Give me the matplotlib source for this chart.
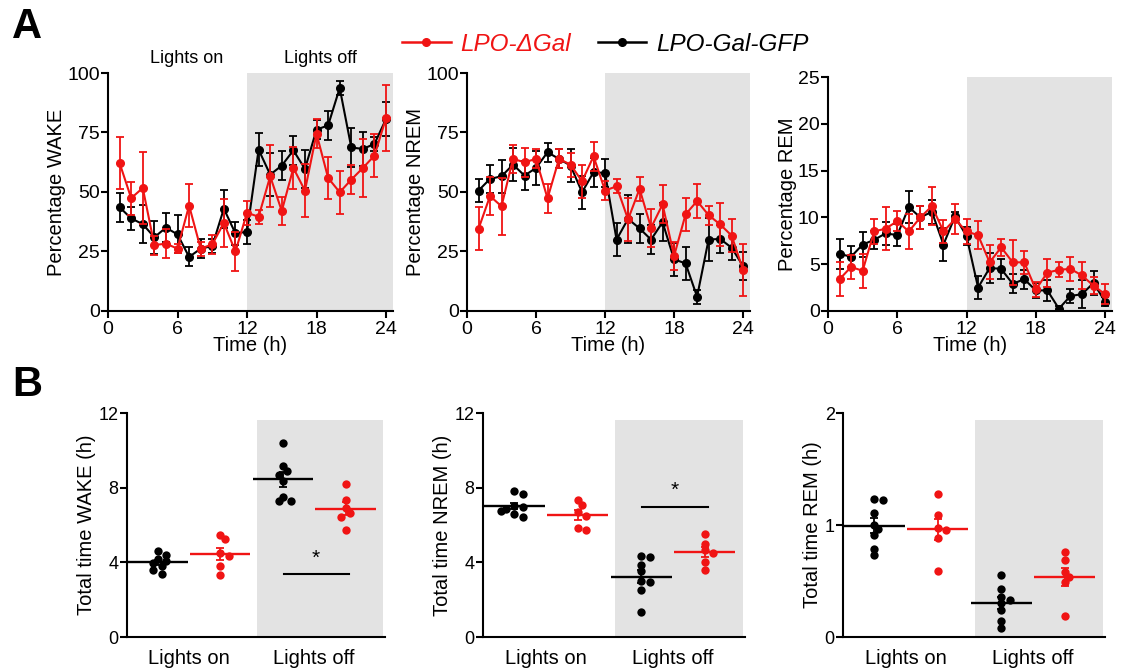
import numpy as np
import matplotlib
matplotlib.use('Agg')
import matplotlib.pyplot as plt

plt.rcParams['font.family'] = ['Liberation Sans', 'DejaVu Sans']
plt.rcParams['font.size'] = 14.5

RED = '#f01414'
BLACK = '#000000'
SHADE = '#e3e3e3'

hours = np.arange(1, 25)

# hourly percentages (mean, sem)
wake_gfp = [43.6, 38.9, 36.5, 31.0, 35.0, 32.2, 22.7, 26.2, 27.3, 43.0, 32.6, 33.3,
            67.8, 57.3, 61.1, 67.5, 59.7, 76.2, 78.0, 93.7, 68.7, 68.1, 70.2, 80.7]
wake_gfp_err = [6, 5, 8, 7, 6, 8, 4, 4, 3, 8, 5, 5, 7, 9, 6, 6, 8, 4, 6, 3, 8, 7, 3, 7]
wake_dgal = [62.2, 47.4, 51.7, 27.7, 28.3, 26.2, 44.3, 26.2, 28.0, 37.0, 25.0, 41.3,
             39.6, 56.6, 42.0, 60.1, 50.6, 74.5, 55.9, 49.9, 55.2, 60.1, 65.3, 81.1]
wake_dgal_err = [11, 7, 15, 4, 6, 2, 9, 3, 4, 10, 8, 5, 3, 13, 6, 9, 11, 6, 9, 9, 6, 12, 9, 14]

nrem_gfp = [50.6, 55.5, 56.6, 61.5, 56.9, 60.1, 66.7, 63.9, 61.1, 49.9, 58.3, 58.0,
            30.0, 38.7, 34.7, 30.0, 37.3, 21.7, 20.0, 6.0, 30.0, 30.3, 26.6, 18.9]
nrem_gfp_err = [5, 6, 7, 7, 6, 7, 4, 4, 7, 7, 6, 6, 7, 10, 6, 6, 8, 7, 7, 3, 9, 6, 5, 6]
nrem_dgal = [34.5, 48.3, 44.0, 63.9, 62.5, 63.9, 47.3, 63.9, 61.5, 54.5, 65.0, 50.6,
             52.4, 38.5, 51.3, 35.0, 44.8, 23.1, 40.6, 46.2, 40.3, 36.4, 31.7, 17.2]
nrem_dgal_err = [9, 8, 12, 6, 6, 4, 6, 4, 5, 7, 6, 4, 3, 9, 5, 8, 8, 6, 7, 7, 4, 9, 7, 11]

rem_gfp = [6.1, 5.8, 7.1, 7.6, 8.3, 8.1, 11.1, 10.0, 10.6, 7.1, 10.1, 8.0,
           2.5, 4.6, 4.5, 2.9, 3.4, 2.2, 2.2, 0.25, 1.6, 1.8, 3.0, 1.0]
rem_gfp_err = [1.6, 1.1, 1.3, 1.0, 1.2, 1.2, 1.7, 1.2, 1.3, 1.8, 0.5, 1.0,
               1.2, 1.6, 1.1, 1.0, 1.0, 0.8, 1.1, 0.3, 0.7, 1.5, 1.3, 0.5]
rem_dgal = [3.4, 4.7, 4.3, 8.5, 8.8, 9.6, 8.5, 10.0, 11.2, 8.5, 9.8, 8.5,
            8.1, 5.2, 6.8, 5.2, 5.2, 2.3, 4.1, 4.4, 4.5, 3.8, 2.7, 1.8]
rem_dgal_err = [1.8, 1.3, 1.8, 1.3, 2.3, 1.1, 1.9, 1.2, 2.0, 1.2, 1.6, 1.3,
                1.5, 1.8, 0.9, 2.4, 1.2, 0.8, 1.5, 0.8, 1.3, 1.4, 0.9, 1.1]

# total time per animal (h)
wake_on_gfp = [4.6, 4.4, 4.2, 4.05, 3.95, 3.8, 3.6, 3.4]
wake_on_dgal = [5.48, 5.25, 4.5, 4.35, 3.79, 3.34]
wake_off_gfp = [10.4, 9.14, 8.87, 8.7, 8.34, 7.5, 7.3, 7.27]
wake_off_dgal = [8.18, 7.36, 6.9, 6.64, 6.43, 5.75]

nrem_on_gfp = [7.8, 7.65, 7.0, 6.95, 6.85, 6.75, 6.6, 6.45]
nrem_on_dgal = [7.36, 7.09, 6.7, 6.5, 5.84, 5.75]
nrem_off_gfp = [4.32, 4.27, 3.88, 3.52, 3.0, 2.95, 2.54, 1.34]
nrem_off_dgal = [5.52, 5.0, 4.65, 4.5, 4.02, 3.57]

rem_on_gfp = [1.235, 1.22, 1.11, 1.0, 0.96, 0.91, 0.79, 0.73]
rem_on_dgal = [1.28, 1.09, 0.97, 0.958, 0.884, 0.586]
rem_off_gfp = [0.55, 0.43, 0.36, 0.33, 0.30, 0.24, 0.14, 0.08]
rem_off_dgal = [0.756, 0.685, 0.58, 0.54, 0.488, 0.19]

W, H = 1121, 669
fig = plt.figure(figsize=(W / 100, H / 100), dpi=100)


def px_axes(left, top, right, bottom):
    return fig.add_axes([left / W, 1 - bottom / H, (right - left) / W, (bottom - top) / H])


def style(ax, tick_size):
    for s in ['top', 'right']:
        ax.spines[s].set_visible(False)
    for s in ['left', 'bottom']:
        ax.spines[s].set_linewidth(1.5)
    ax.tick_params(width=1.5, length=5, labelsize=tick_size)
    ax.tick_params(axis='y', pad=1)
    ax.tick_params(axis='x', pad=2)


def hourly(ax, gfp, gfp_err, dgal, dgal_err, ymax, step, label):
    ax.axvspan(12, 24.6, color=SHADE, lw=0, zorder=0)
    ax.errorbar(hours, gfp, yerr=gfp_err, color=BLACK, marker='o', ms=5.5, lw=1.5,
                elinewidth=1.3, capsize=3, capthick=1.3, zorder=3)
    ax.errorbar(hours, dgal, yerr=dgal_err, color=RED, marker='o', ms=5.5, lw=1.5,
                elinewidth=1.3, capsize=3, capthick=1.3, zorder=4)
    ax.set_xlim(0, 24.6)
    ax.set_ylim(0, ymax)
    ax.set_xticks([0, 6, 12, 18, 24])
    ax.set_yticks(np.arange(0, ymax + 1, step))
    ax.set_xlabel('Time (h)', labelpad=-1)
    ax.set_ylabel(label, labelpad=1)
    style(ax, 14)


def swarm(vals, ax_h_px, ymax, unit_px, d=6.0):
    placed = []
    offs = []
    for v in vals:
        y = v / ymax * ax_h_px
        for k in [0, 1, -1, 2, -2, 3, -3]:
            x = k * d * 0.7
            if all((x - px) ** 2 + (y - py) ** 2 >= d ** 2 for px, py in placed):
                break
        placed.append((x, y))
        offs.append(x / unit_px)
    return np.array(offs)


def totals(ax, groups, ymax, step, label, star_y):
    ax.axvspan(2.585, 4.6, ymax=0.967, color=SHADE, lw=0, zorder=0)
    pos = [1, 2, 3, 4]
    cols = [BLACK, RED, BLACK, RED]
    for p, g, c in zip(pos, groups, cols):
        g = np.array(g)
        off = swarm(g, 224, ymax, 62.7)
        ax.plot(p + off, g, 'o', color=c, ms=6, mec='none', zorder=3)
        m = g.mean()
        sem = g.std(ddof=1) / np.sqrt(len(g))
        ax.hlines(m, p - 0.48, p + 0.48, color=c, lw=1.7, zorder=4)
        ax.errorbar(p, m, yerr=sem, color=c, lw=1.3, capsize=3, capthick=1.3, zorder=4)
    ax.set_xlim(0.51, 4.63)
    ax.set_ylim(0, ymax)
    ax.set_yticks(np.arange(0, ymax + 0.001, step))
    ax.set_xticks([1.5, 3.5])
    ax.set_xticklabels(['Lights on', 'Lights off'])
    ax.set_ylabel(label, labelpad=2)
    style(ax, 13)
    ax.tick_params(axis='x', length=0, pad=9, labelsize=14.5)
    if star_y is not None:
        ax.plot([3.01, 4.05], [star_y, star_y], color=BLACK, lw=1.5)
        ax.text(3.53, star_y + 0.03 * ymax, '*', ha='center', va='bottom', fontsize=15)


ax1 = px_axes(108, 73, 393, 311)
hourly(ax1, wake_gfp, wake_gfp_err, wake_dgal, wake_dgal_err, 100, 25, 'Percentage WAKE')
ax2 = px_axes(467, 73, 750, 311)
hourly(ax2, nrem_gfp, nrem_gfp_err, nrem_dgal, nrem_dgal_err, 100, 25, 'Percentage NREM')
ax3 = px_axes(828, 77, 1112, 311)
hourly(ax3, rem_gfp, rem_gfp_err, rem_dgal, rem_dgal_err, 25, 5, 'Percentage REM')

ax1.text(6.8, 1.025, 'Lights on', transform=ax1.get_xaxis_transform(), ha='center', va='bottom', fontsize=13)
ax1.text(18.3, 1.025, 'Lights off', transform=ax1.get_xaxis_transform(), ha='center', va='bottom', fontsize=13)

ax4 = px_axes(127, 413, 385, 637)
totals(ax4, [wake_on_gfp, wake_on_dgal, wake_off_gfp, wake_off_dgal], 12, 4, 'Total time WAKE (h)', 3.36)
ax5 = px_axes(483, 413, 745, 637)
totals(ax5, [nrem_on_gfp, nrem_on_dgal, nrem_off_gfp, nrem_off_dgal], 12, 4, 'Total time NREM (h)', 6.98)
ax6 = px_axes(843, 413, 1105, 637)
totals(ax6, [rem_on_gfp, rem_on_dgal, rem_off_gfp, rem_off_dgal], 2, 1, 'Total time REM (h)', None)

h_red = plt.Line2D([], [], color=RED, marker='o', ms=5.5, lw=1.8)
h_blk = plt.Line2D([], [], color=BLACK, marker='o', ms=5.5, lw=1.8)
leg = fig.legend([h_red, h_blk], ['LPO-ΔGal', 'LPO-Gal-GFP'], loc='center', ncol=2,
                 bbox_to_anchor=(0.54, 0.934), frameon=False, handlelength=2.0,
                 handletextpad=0.4, columnspacing=1.1,
                 prop={'style': 'italic', 'size': 17.5})
leg.get_texts()[0].set_color(RED)

fig.text(12 / W, 1 - 27 / H, 'A', fontsize=30, fontweight='bold', va='center', ha='left')
fig.text(12 / W, 1 - 385 / H, 'B', fontsize=30, fontweight='bold', va='center', ha='left')

fig.savefig('out.png', dpi=100)
